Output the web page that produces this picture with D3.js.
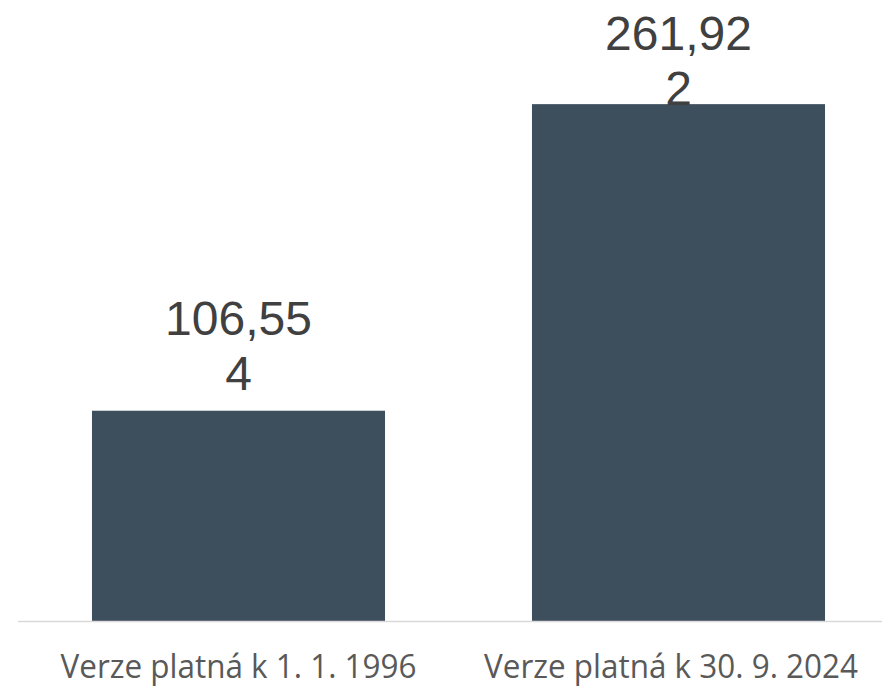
<!DOCTYPE html>
<html>
<head>
<meta charset="utf-8">
<script src="https://cdn.jsdelivr.net/npm/d3@7"></script>
<style>
  html, body { margin: 0; padding: 0; background: #ffffff; }
  svg { display: block; }
</style>
</head>
<body>
<svg id="chart" width="882" height="687"></svg>
<script>
const categories = ["Verze platná k 1. 1. 1996", "Verze platná k 30. 9. 2024"];
const values = [106554, 261922];
const valueLabels = [["106,55", "4"], ["261,92", "2"]];

const W = 882, H = 687;
const svg = d3.select("#chart");

const x = d3.scaleBand()
  .domain(categories)
  .range([18.5, 898.5])
  .paddingInner(0.334)
  .paddingOuter(0.167);

const y = d3.scaleLinear().domain([0, 300000]).range([621, 29]);

// bars
svg.selectAll("rect.bar")
  .data(values)
  .join("rect")
  .attr("class", "bar")
  .attr("x", (d, i) => x(categories[i]))
  .attr("width", x.bandwidth())
  .attr("y", d => y(d))
  .attr("height", d => y(0) - y(d))
  .attr("fill", "#3d4e5c");

// baseline axis
const xAxis = svg.append("g").attr("transform", `translate(0,${y(0) + 0.5})`);
xAxis.append("line")
  .attr("x1", 18).attr("x2", W)
  .attr("stroke", "#d9d9d9").attr("stroke-width", 1.5);

// category labels (kept inside the right edge)
const catW = [356, 374];
svg.selectAll("text.cat")
  .data(categories)
  .join("text")
  .attr("class", "cat")
  .attr("x", (d, i) => Math.min(x(d) + x.bandwidth() / 2, W - 24 - catW[i] / 2))
  .attr("y", 678)
  .attr("text-anchor", "middle")
  .attr("font-family", "'Open Sans', sans-serif")
  .attr("font-size", 32)
  .attr("fill", "#595959")
  .attr("textLength", (d, i) => catW[i])
  .attr("lengthAdjust", "spacingAndGlyphs")
  .text(d => d);

// value labels (wrapped)
const lineH = 55;
values.forEach((v, i) => {
  const cx = x(categories[i]) + x.bandwidth() / 2;
  const lines = valueLabels[i];
  let firstBase = y(v) - 21 - lineH * (lines.length - 1);
  firstBase = Math.max(firstBase, 50);
  const t = svg.append("text")
    .attr("x", cx)
    .attr("y", firstBase)
    .attr("text-anchor", "middle")
    .attr("font-family", "'Liberation Sans', Arial, sans-serif")
    .attr("font-size", 48)
    .attr("fill", "#404040");
  lines.forEach((ln, j) => {
    t.append("tspan").attr("x", cx).attr("dy", j === 0 ? 0 : lineH).text(ln);
  });
});
</script>
</body>
</html>
